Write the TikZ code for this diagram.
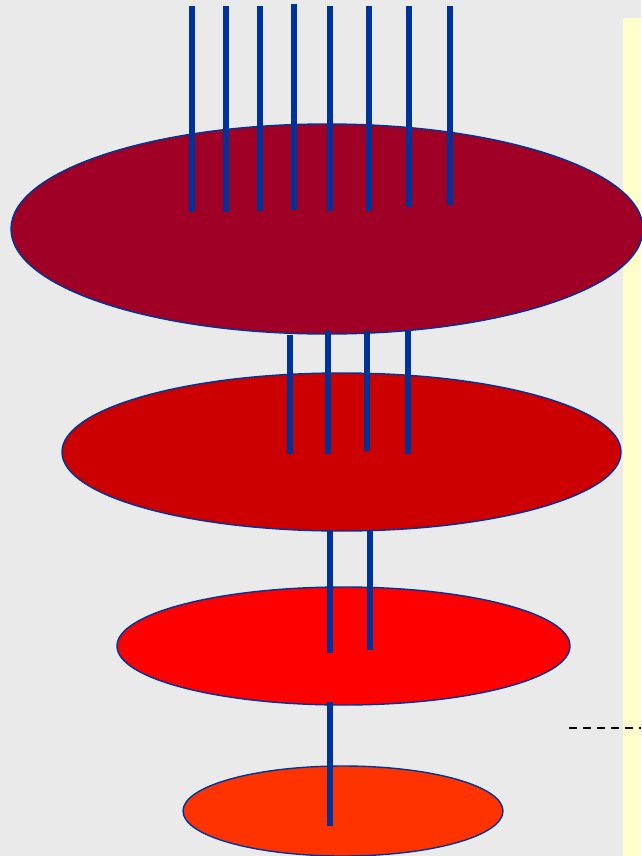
\documentclass[tikz,border=0pt]{standalone}
\usetikzlibrary{shapes.geometric}
\definecolor{bgcol}{HTML}{EAEAEA}
\definecolor{yel}{HTML}{FFFFCC}
\definecolor{blu}{HTML}{003399}
\definecolor{cA}{HTML}{A00025}
\definecolor{cB}{HTML}{CC0000}
\definecolor{cC}{HTML}{FF0000}
\definecolor{cD}{HTML}{FF3300}
\tikzset{
  disc/.style={ellipse, draw=blu, line width=1.4pt, inner sep=0pt},
  rod/.style={draw=blu, line width=6pt, line cap=butt},
}
\begin{document}
\begin{tikzpicture}[x=1pt,y=-1pt]
\fill[bgcol] (0,0) rectangle (641,856);
\useasboundingbox (0,0) rectangle (641,856);
\fill[yel] (623,18) rectangle (641,856);
\coordinate (ds) at (569,728);
\coordinate (de) at (641,728);
\draw[black, line width=2.5pt, dash pattern=on 8pt off 6pt] (ds) -- (de);
% level 1
\node[disc, fill=cA, minimum width=632pt, minimum height=210pt] (e1) at (327,229) {};
\foreach \x/\t/\b [count=\i] in {192/6/212, 226/6/212, 260/6/211, 294/4/210, 330/6/211, 369/6/211, 409/6/207, 450/6/205}{
  \coordinate (t\i) at (\x,\t);
  \coordinate (u\i) at (\x,\b);
  \draw[rod] (t\i) -- (u\i);
}
% level 2
\node[disc, fill=cB, minimum width=559pt, minimum height=158pt] (e2) at (341.5,452) {};
\foreach \x/\t/\b [count=\i] in {290/335/454, 328/331/454, 367/331/451, 408/330/454}{
  \coordinate (m\i) at (\x,\t);
  \coordinate (n\i) at (\x,\b);
  \draw[rod] (m\i) -- (n\i);
}
% level 3
\node[disc, fill=cC, minimum width=453pt, minimum height=118pt] (e3) at (343.5,646) {};
\foreach \x/\t/\b [count=\i] in {330/531/653, 370/531/650}{
  \coordinate (p\i) at (\x,\t);
  \coordinate (q\i) at (\x,\b);
  \draw[rod] (p\i) -- (q\i);
}
% level 4
\node[disc, fill=cD, minimum width=320pt, minimum height=90pt] (e4) at (343,811) {};
\coordinate (r1) at (330,702);
\coordinate (s1) at (330,826);
\draw[rod] (r1) -- (s1);
\end{tikzpicture}
\end{document}
